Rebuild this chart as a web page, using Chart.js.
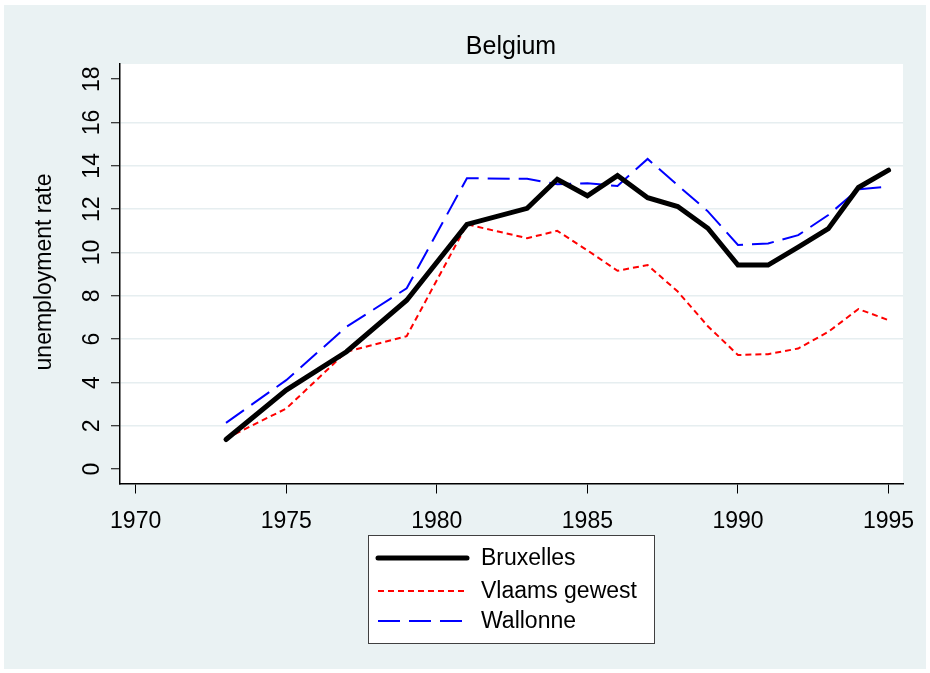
<!DOCTYPE html>
<html>
<head>
<meta charset="utf-8">
<script src="https://cdn.jsdelivr.net/npm/chart.js@4.4.1/dist/chart.umd.min.js"></script>
<style>
  html, body { margin: 0; padding: 0; background: #ffffff; }
  #wrap { width: 930px; height: 673px; position: relative; }
</style>
</head>
<body>
<div id="wrap"><canvas id="c" width="930" height="673"></canvas></div>
<script>
// ---- data ----
const years = [1973, 1975, 1977, 1979, 1981, 1983, 1984, 1985, 1986, 1987, 1988, 1989, 1990, 1991, 1992, 1993, 1994, 1995];
const bruxelles = [1.37, 3.65, 5.42, 7.8, 11.3, 12.04, 13.38, 12.62, 13.55, 12.53, 12.12, 11.12, 9.42, 9.42, 10.25, 11.1, 13.0, 13.8];
const vlaams   = [1.42, 2.8, 5.42, 6.14, 11.3, 10.66, 11.0, 10.1, 9.16, 9.42, 8.2, 6.6, 5.27, 5.31, 5.57, 6.34, 7.39, 6.88];
const wallonne = [2.14, 4.11, 6.57, 8.35, 13.43, 13.4, 13.15, 13.2, 13.07, 14.32, 13.1, 11.9, 10.35, 10.42, 10.8, 11.73, 12.92, 13.04];
const xTicks = [1970, 1975, 1980, 1985, 1990, 1995];
const yTicks = [0, 2, 4, 6, 8, 10, 12, 14, 16, 18];
const seriesNames = ['Bruxelles', 'Vlaams gewest', 'Wallonne'];
const titleText = 'Belgium';
const yTitle = 'unemployment rate';

const FONT = '"Liberation Sans", Arial, sans-serif';
const BG = '#eaf2f3';

function pts(vals) { return years.map((y, i) => ({ x: y, y: vals[i] })); }

const decor = {
  id: 'decor',
  beforeDraw(chart) {
    const ctx = chart.ctx;
    ctx.save();
    ctx.fillStyle = '#ffffff';
    ctx.fillRect(0, 0, chart.width, chart.height);
    ctx.fillStyle = BG;
    ctx.fillRect(4, 5, 922, 664);
    const a = chart.chartArea;
    ctx.fillStyle = '#ffffff';
    ctx.fillRect(a.left, a.top, a.right - a.left, a.bottom - a.top);
    ctx.restore();
  },
  afterDraw(chart) {
    const ctx = chart.ctx;
    const xs = chart.scales.x, ys = chart.scales.y;
    ctx.save();
    ctx.fillStyle = '#000';
    // title
    ctx.font = '25px ' + FONT;
    ctx.textAlign = 'center';
    ctx.textBaseline = 'middle';
    ctx.fillText(titleText, 511, 47);
    // x tick labels
    ctx.font = '23px ' + FONT;
    xTicks.forEach(v => {
      ctx.fillText(String(v), xs.getPixelForValue(v), 522);
    });
    // y tick labels (rotated)
    yTicks.forEach(v => {
      ctx.save();
      ctx.translate(93, ys.getPixelForValue(v));
      ctx.rotate(-Math.PI / 2);
      ctx.fillText(String(v), 0, 0);
      ctx.restore();
    });
    // y title
    ctx.save();
    ctx.translate(45, 272);
    ctx.rotate(-Math.PI / 2);
    ctx.fillText(yTitle, 0, 0);
    ctx.restore();
    // legend
    const lx = 368.5, ly = 535.5, lw = 286, lh = 108;
    ctx.fillStyle = '#ffffff';
    ctx.fillRect(lx, ly, lw, lh);
    ctx.strokeStyle = '#404040';
    ctx.lineWidth = 1;
    ctx.strokeRect(lx, ly, lw, lh);
    const rows = [558, 591, 621];
    chart.data.datasets.forEach((ds, i) => {
      ctx.save();
      ctx.strokeStyle = ds.borderColor;
      ctx.lineWidth = ds.borderWidth;
      ctx.lineCap = ds.borderCapStyle || 'butt';
      ctx.setLineDash(ds.borderDash || []);
      ctx.beginPath();
      ctx.moveTo(378, rows[i]);
      ctx.lineTo(467, rows[i]);
      ctx.stroke();
      ctx.restore();
      ctx.fillStyle = '#000';
      ctx.textAlign = 'left';
      ctx.textBaseline = 'middle';
      ctx.font = '23px ' + FONT;
      ctx.fillText(ds.label, 481, rows[i] + 1);
    });
    ctx.restore();
  }
};

new Chart(document.getElementById('c'), {
  type: 'line',
  data: {
    datasets: [
      { label: seriesNames[0], data: pts(bruxelles), borderColor: '#000000', borderWidth: 5, borderCapStyle: 'round', borderJoinStyle: 'miter', pointRadius: 0, tension: 0, fill: false },
      { label: seriesNames[1], data: pts(vlaams), borderColor: '#ff0000', borderWidth: 2, borderDash: [6, 4], pointRadius: 0, tension: 0, fill: false },
      { label: seriesNames[2], data: pts(wallonne), borderColor: '#0000ff', borderWidth: 2, borderDash: [22, 9], pointRadius: 0, tension: 0, fill: false }
    ]
  },
  options: {
    responsive: false,
    animation: false,
    devicePixelRatio: 1,
    layout: { padding: { left: 0, top: 64, right: 27, bottom: 0 } },
    plugins: { legend: { display: false }, title: { display: false }, tooltip: { enabled: false } },
    scales: {
      x: {
        type: 'linear',
        min: 1969.48, max: 1995.48,
        afterFit(s) { s.height = 189.5; },
        afterBuildTicks(s) { s.ticks = xTicks.map(v => ({ value: v })); },
        ticks: { display: false },
        grid: { drawOnChartArea: false, drawTicks: true, tickLength: 10, tickColor: '#000', tickWidth: 1 },
        border: { display: true, color: '#000', width: 1.5 }
      },
      y: {
        type: 'linear',
        min: -0.66, max: 18.7,
        afterFit(s) { s.width = 120; },
        afterBuildTicks(s) { s.ticks = yTicks.map(v => ({ value: v })); },
        ticks: { display: false },
        grid: {
          drawOnChartArea: true, drawTicks: true, tickLength: 9, tickColor: '#000', tickWidth: 1, lineWidth: 1.5,
          color: c => (c.tick && (c.tick.value === 0 || c.tick.value === 18)) ? 'rgba(0,0,0,0)' : '#e6eef0'
        },
        border: { display: true, color: '#000', width: 1.5 }
      }
    }
  },
  plugins: [decor]
});
</script>
</body>
</html>
